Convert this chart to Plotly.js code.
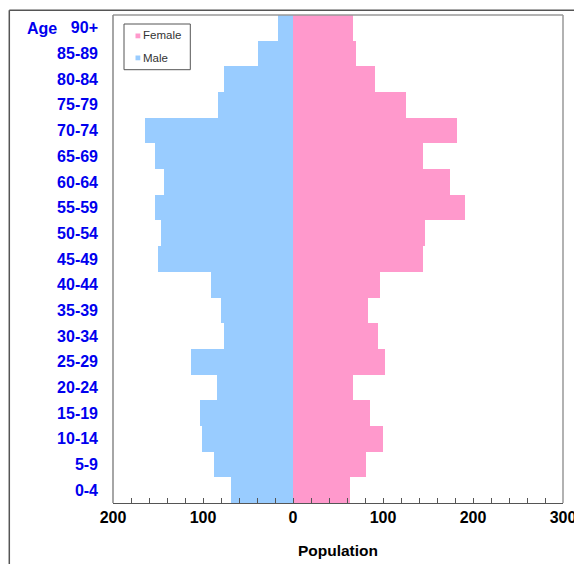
<!DOCTYPE html>
<html>
<head>
<meta charset="utf-8">
<script src="https://cdn.plot.ly/plotly-3.0.1.min.js"></script>
<style>
html,body{margin:0;padding:0;background:#fff;}
#chart{width:574px;height:564px;}
</style>
</head>
<body>
<div id="chart"></div>
<script>
var ageGroups = ['0-4','5-9','10-14','15-19','20-24','25-29','30-34','35-39','40-44','45-49','50-54','55-59','60-64','65-69','70-74','75-79','80-84','85-89','90+'];
var maleValues = [69,88,101,103,84,113,77,80,91,150,147,153,143,153,165,83,77,39,17];
var femaleValues = [63,81,100,85,67,102,94,83,97,144,147,191,174,144,182,126,91,70,67];
var xTickValues = [-200,-100,0,100,200,300];
var xTickLabels = ['200','100','0','100','200','300'];

var maleNeg = maleValues.map(function(v){return -v;});

var traces = [
  {type:'bar', orientation:'h', name:'Male', y:ageGroups, x:maleNeg,
   marker:{color:'#99ccff', line:{width:0}}, showlegend:false, hoverinfo:'skip'},
  {type:'bar', orientation:'h', name:'Female', y:ageGroups, x:femaleValues,
   marker:{color:'#ff99cc', line:{width:0}}, showlegend:false, hoverinfo:'skip'}
];

// helpers for pixel -> paper conversion
var L=113, R=11, T=15, B=61, W=574, H=564;
var PW=W-L-R, PH=H-T-B;
function px(x){return (x-L)/PW;}
function py(y){return (H-B-y)/PH;}

var layout = {
  width:W, height:H,
  margin:{l:L, r:R, t:T, b:B, pad:0},
  paper_bgcolor:'#fff', plot_bgcolor:'#fff',
  barmode:'relative', bargap:0,
  showlegend:false,
  font:{family:'Liberation Sans, Arial, sans-serif'},
  xaxis:{
    range:[-200,300], tickvals:xTickValues, ticktext:xTickLabels,
    tickfont:{size:16, color:'#000', weight:'bold'},
    ticklabeloverflow:'allow',
    ticks:'inside', ticklen:5, tickcolor:'#555', tickwidth:1,
    minor:{dtick:20, ticks:'inside', ticklen:5, tickcolor:'#555', tickwidth:1, showgrid:false},
    showgrid:false, zeroline:true, zerolinecolor:'#333', zerolinewidth:1.2,
    showline:true, linecolor:'#555', linewidth:1,
    layer:'above traces', fixedrange:true,
    title:{text:'Population', font:{size:15.5, color:'#000', weight:'bold'}, standoff:19}
  },
  yaxis:{
    type:'category', categoryorder:'array', categoryarray:ageGroups,
    tickfont:{size:16, color:'#0000ee', weight:'bold'},
    ticks:'', showgrid:false, zeroline:false, showline:false,
    ticklabelstandoff:14, fixedrange:true
  },
  shapes:[
    // plot frame (top, left, right)
    {type:'line', xref:'paper', yref:'paper', x0:0, x1:1, y0:1, y1:1, line:{color:'#999', width:1.5}, layer:'above'},
    {type:'line', xref:'paper', yref:'paper', x0:0, x1:0, y0:0, y1:1, line:{color:'#888', width:1.5}, layer:'above'},
    {type:'line', xref:'paper', yref:'paper', x0:1, x1:1, y0:0, y1:1, line:{color:'#999', width:1.5}, layer:'above'},
    // outer frame
    {type:'line', xref:'paper', yref:'paper', x0:px(9.3), x1:px(9.3), y0:py(570), y1:py(10.3), line:{color:'#555', width:1.5}, layer:'above'},
    {type:'line', xref:'paper', yref:'paper', x0:px(9.3), x1:px(580), y0:py(10.3), y1:py(10.3), line:{color:'#555', width:1.5}, layer:'above'},
    // legend box
    {type:'rect', xref:'paper', yref:'paper', x0:px(124), x1:px(190.3), y0:py(69.7), y1:py(24), line:{color:'#555', width:1}, fillcolor:'#fff', layer:'above'},
    {type:'rect', xref:'paper', yref:'paper', x0:px(135.5), x1:px(140.3), y0:py(38.3), y1:py(33.5), line:{width:0}, fillcolor:'#ff99cc', layer:'above'},
    {type:'rect', xref:'paper', yref:'paper', x0:px(135.5), x1:px(140.3), y0:py(60.3), y1:py(55.5), line:{width:0}, fillcolor:'#99ccff', layer:'above'}
  ],
  annotations:[
    {text:'Age', xref:'paper', yref:'paper', x:px(25), y:py(28.5), xanchor:'left', yanchor:'middle', showarrow:false,
     font:{size:16, color:'#0000ee', weight:'bold'}},
    {text:'Female', xref:'paper', yref:'paper', x:px(140.5), y:py(35), xanchor:'left', yanchor:'middle', showarrow:false,
     font:{size:11.5, color:'#333'}},
    {text:'Male', xref:'paper', yref:'paper', x:px(140.5), y:py(57.5), xanchor:'left', yanchor:'middle', showarrow:false,
     font:{size:11.5, color:'#333'}}
  ]
};

Plotly.newPlot('chart', traces, layout, {displayModeBar:false, staticPlot:true});
</script>
</body>
</html>
